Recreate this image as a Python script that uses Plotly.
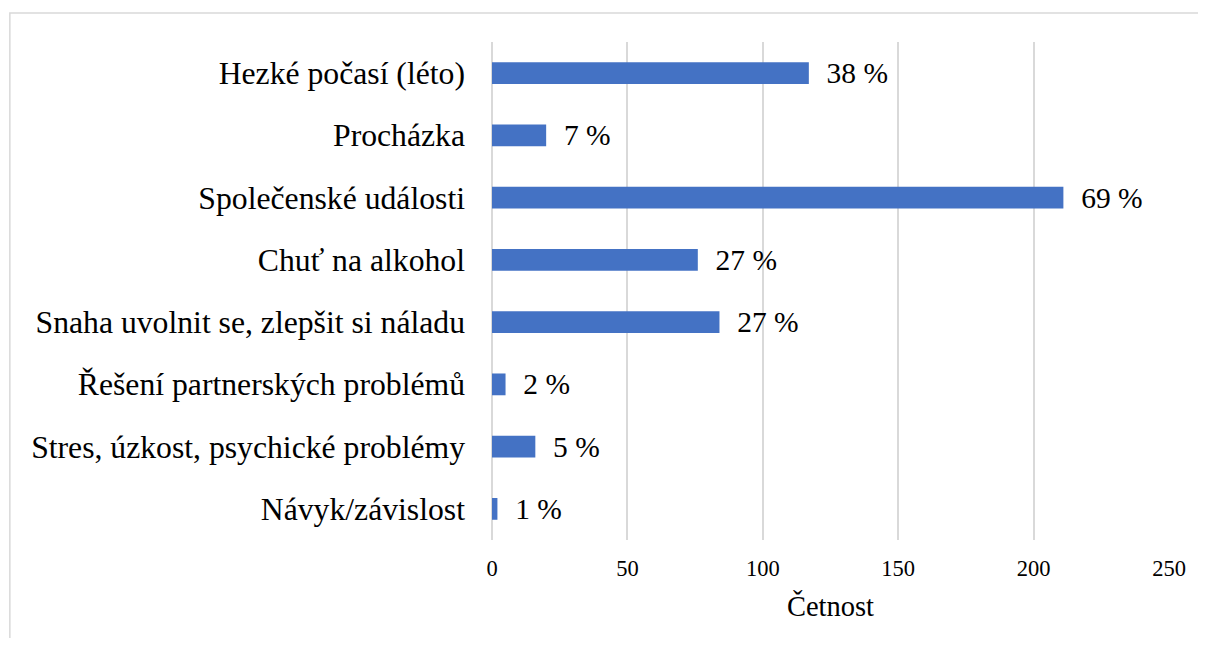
import plotly.graph_objects as go

categories = [
    "Hezké počasí (léto)",
    "Procházka",
    "Společenské události",
    "Chuť na alkohol",
    "Snaha uvolnit se, zlepšit si náladu",
    "Řešení partnerských problémů",
    "Stres, úzkost, psychické problémy",
    "Návyk/závislost",
]
counts = [117, 20, 211, 76, 84, 5, 16, 2]
pct_labels = ["38 %", "7 %", "69 %", "27 %", "27 %", "2 %", "5 %", "1 %"]
x_ticks = [0, 50, 100, 150, 200, 250]

FONT = "Liberation Serif"

fig = go.Figure()
fig.add_trace(go.Bar(
    x=counts,
    y=categories,
    orientation="h",
    marker=dict(color="#4472C4", line=dict(width=0)),
    text=["\u00a0\u00a0" + t for t in pct_labels],
    textposition="outside",
    constraintext="none",
    textfont=dict(family=FONT, size=29.5, color="black"),
    cliponaxis=False,
    width=0.35,
))

W, H = 1190, 630
L, R, T, B = 484, 25, 34, 98
pw, ph = W - L - R, H - T - B

fig.update_layout(
    width=W, height=H,
    margin=dict(l=L, r=R, t=T, b=B),
    paper_bgcolor="white",
    plot_bgcolor="white",
    showlegend=False,
    font=dict(family=FONT, color="black"),
    xaxis=dict(
        range=[0, 250],
        tickvals=x_ticks,
        showgrid=True,
        gridcolor="#d9d9d9",
        gridwidth=1.5,
        zeroline=True,
        zerolinecolor="#d9d9d9",
        zerolinewidth=1.5,
        showline=False,
        ticks="",
        ticklabelstandoff=12,
        tickfont=dict(family=FONT, size=22.5, color="black"),
        title=dict(text="Četnost", font=dict(family=FONT, size=28.5, color="black"), standoff=16),
        fixedrange=True,
    ),
    yaxis=dict(
        autorange="reversed",
        showgrid=False,
        showline=False,
        ticks="",
        tickfont=dict(family=FONT, size=31.7, color="black"),
        ticklabelstandoff=26,
        fixedrange=True,
    ),
    shapes=[dict(
        type="rect", xref="paper", yref="paper",
        x0=(-1 - L) / pw, x1=(1197 - L) / pw,
        y0=(T + ph - 660) / ph, y1=(T + ph - 5) / ph,
        line=dict(color="#d9d9d9", width=1.5),
        fillcolor="rgba(0,0,0,0)",
        layer="below",
    )],
)

fig.write_html("out.html")
